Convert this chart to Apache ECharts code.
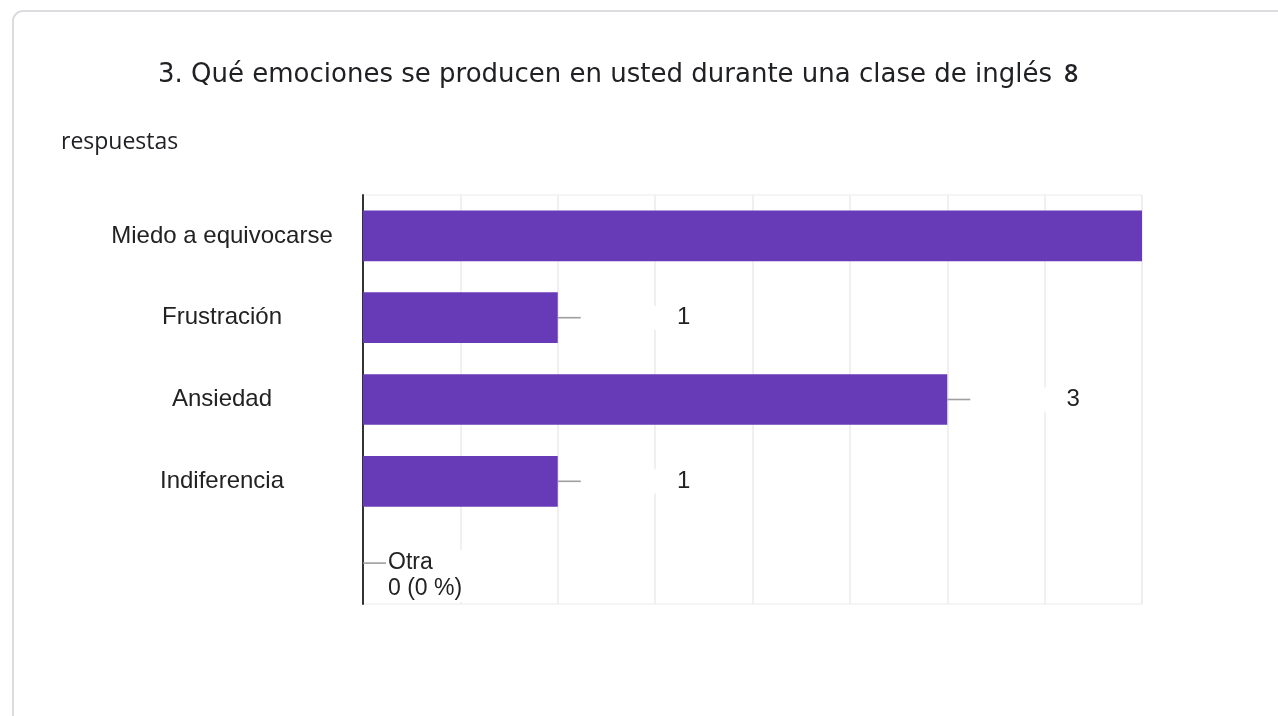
<!DOCTYPE html>
<html>
<head>
<meta charset="utf-8">
<script src="https://cdn.jsdelivr.net/npm/echarts@6/dist/echarts.min.js"></script>
<style>
html,body{margin:0;padding:0;background:#fff;}
#c{width:1278px;height:716px;}
</style>
</head>
<body>
<div id="c"></div>
<script>
const titleText = '3. Qué emociones se producen en usted durante una clase de inglés';
const totalRespuestas = 8;
const categories = ['Miedo a equivocarse', 'Frustración', 'Ansiedad', 'Indiferencia', 'Otra'];
const values = [4, 1, 3, 1, 0];
const axisMax = 4;
const axisInterval = 0.5;

const chart = echarts.init(document.getElementById('c'));
const labelData = values.map((v, i) => [v, i]);

chart.setOption({
  animation: false,
  backgroundColor: '#fff',
  graphic: [
    {type: 'rect', left: 12, top: 10, shape: {width: 1320, height: 800, r: 10},
     style: {fill: '#fff', stroke: '#dadce0', lineWidth: 2}, z: -10},
    {type: 'text', left: 158, top: 62, style: {
      text: '{t|' + titleText + '}{n|' + totalRespuestas + '}',
      rich: {
        t: {fontFamily: 'DejaVu Sans', fontSize: 26, fill: '#202124', lineHeight: 32},
        n: {fontFamily: 'Open Sans', fontSize: 25, fontWeight: 600, fill: '#202124', lineHeight: 32, padding: [0, 0, 0, 12]}
      }}},
    {type: 'text', left: 61, top: 126, style: {
      text: 'respuestas', fontFamily: 'Open Sans', fontSize: 23, lineHeight: 32, fill: '#202124'}}
  ],
  grid: {left: 363, right: 136, top: 195, bottom: 112, show: true, borderColor: '#ebebeb', borderWidth: 1},
  xAxis: {
    type: 'value', min: 0, max: axisMax, interval: axisInterval,
    axisLabel: {show: false}, axisTick: {show: false}, axisLine: {show: false},
    splitLine: {show: true, lineStyle: {color: '#ebebeb', width: 1.5}}
  },
  yAxis: {
    type: 'category', data: categories, inverse: true,
    axisTick: {show: false},
    axisLine: {show: true, lineStyle: {color: '#333', width: 2}},
    axisLabel: {
      align: 'center', margin: 141, fontSize: 24, color: '#222',
      fontFamily: 'Liberation Sans',
      formatter: (v, i) => values[i] === 0 ? '' : v
    },
    splitLine: {show: false}
  },
  series: [
    {
      type: 'bar', data: values, barCategoryGap: '38%',
      itemStyle: {color: '#673ab7'}, z: 2
    },
    {
      type: 'custom', data: labelData, clip: true, z: 5,
      encode: {x: 0, y: 1},
      renderItem: function (params, api) {
        const v = api.value(0);
        const idx = api.value(1);
        const p = api.coord([v, idx]);
        const children = [{
          type: 'line',
          shape: {x1: p[0], y1: p[1], x2: p[0] + 23, y2: p[1]},
          style: {stroke: '#9e9e9e', lineWidth: 1.6}
        }];
        if (v > 0) {
          children.push({
            type: 'text',
            style: {
              x: p[0] + 126, y: p[1], text: String(v), align: 'center', verticalAlign: 'middle',
              fontSize: 24, fontFamily: 'Liberation Sans', fill: '#222',
              backgroundColor: '#fff', padding: [0, 24, 0, 24], lineHeight: 24
            }
          });
        } else {
          const pct = Math.round(v / totalRespuestas * 1000) / 10;
          children.push({
            type: 'text',
            style: {
              x: p[0] + 25, y: p[1] - 13, text: categories[idx] + '\n' + v + ' (' + pct + ' %)',
              align: 'left', verticalAlign: 'top',
              fontSize: 23, fontFamily: 'Liberation Sans', fill: '#222', lineHeight: 26,
              backgroundColor: '#fff', padding: [0, 4, 0, 0]
            }
          });
        }
        return {type: 'group', children: children};
      }
    }
  ]
});
</script>
</body>
</html>
